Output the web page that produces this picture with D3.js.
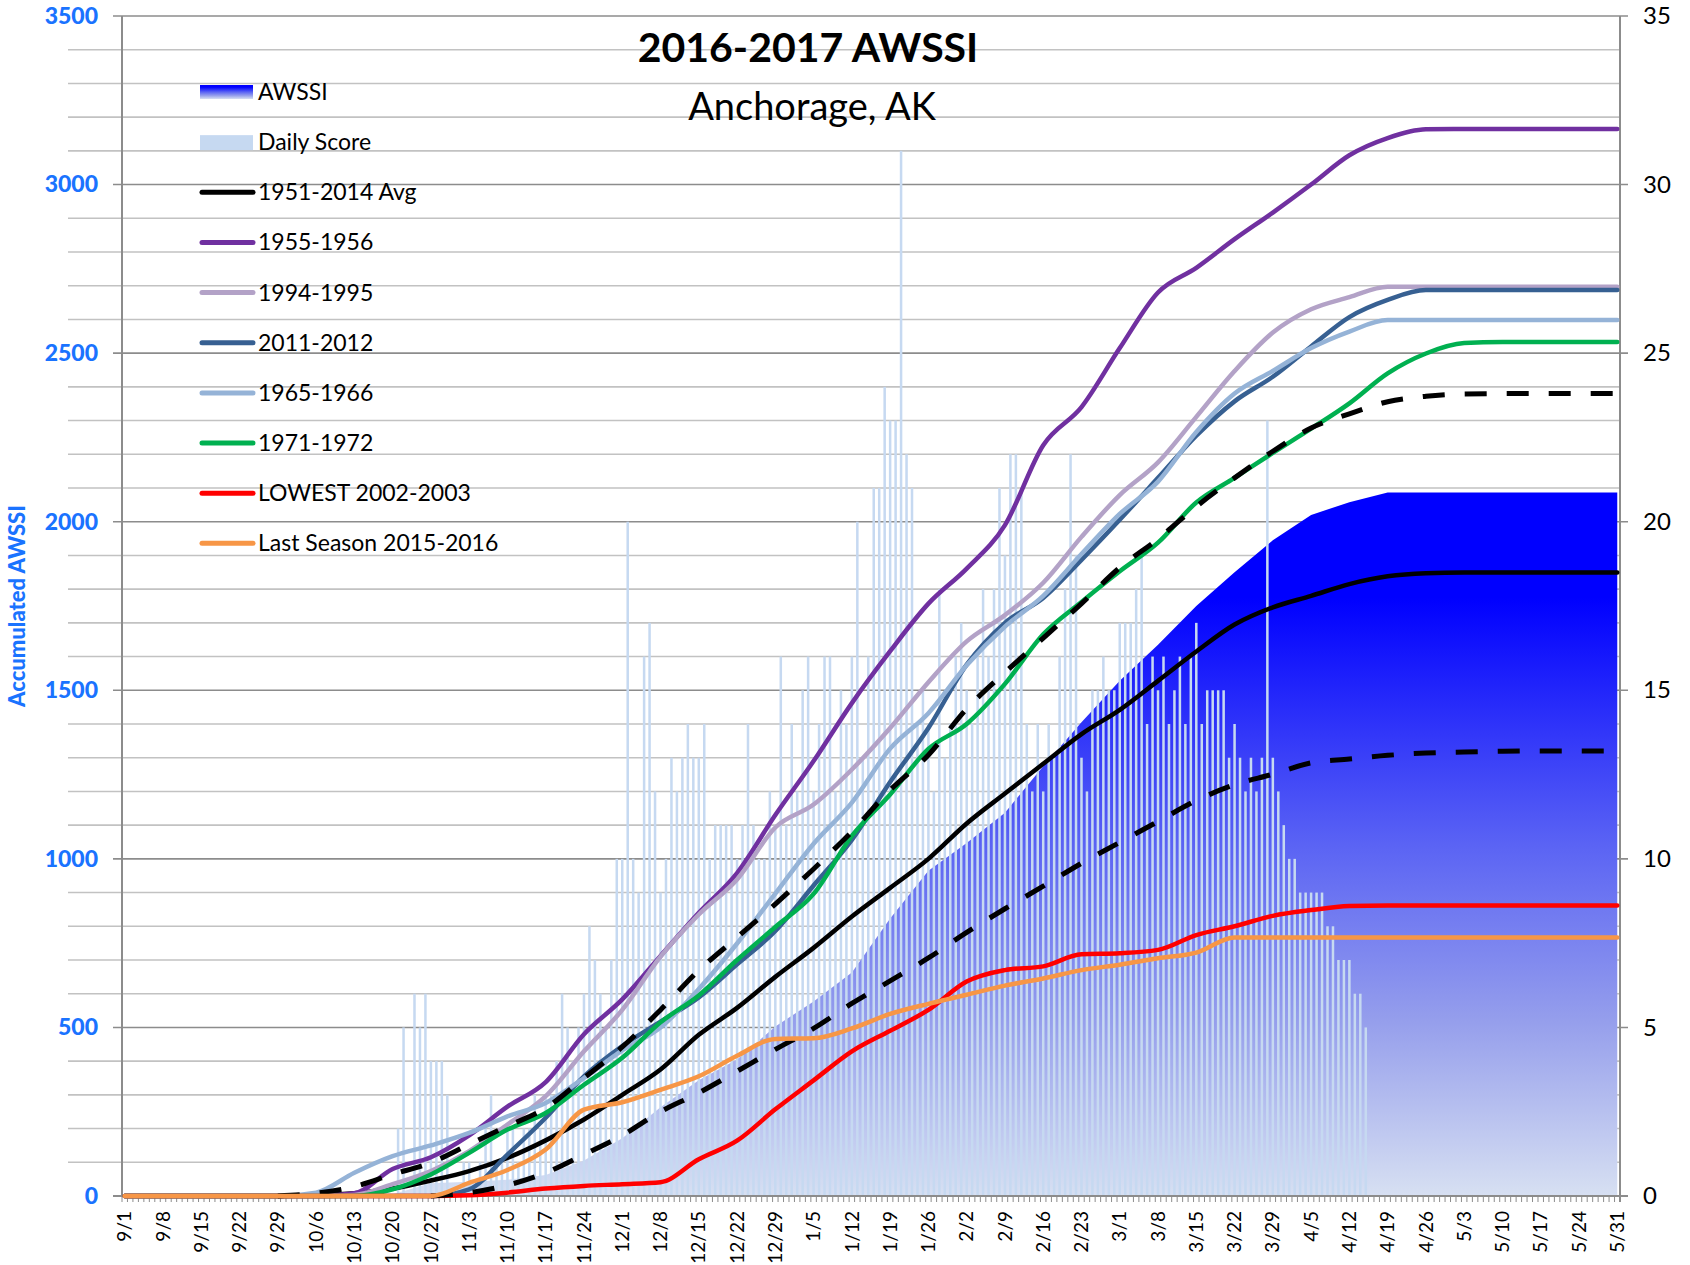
<!DOCTYPE html>
<html><head><meta charset="utf-8">
<script src="https://cdn.jsdelivr.net/npm/d3@7"></script>
<style>
html,body{margin:0;padding:0;background:#fff;}
svg{display:block;font-family:Lato,"Liberation Sans",sans-serif;}
</style></head><body>
<svg id="chart" width="1690" height="1265"></svg>
<script>
// ---------------- DATA ----------------
const weekLabels = ["9/1","9/8","9/15","9/22","9/29","10/6","10/13","10/20","10/27","11/3","11/10","11/17","11/24","12/1","12/8","12/15","12/22","12/29","1/5","1/12","1/19","1/26","2/2","2/9","2/16","2/23","3/1","3/8","3/15","3/22","3/29","4/5","4/12","4/19","4/26","5/3","5/10","5/17","5/24","5/31"];
const seasonMonths = [[9,30],[10,31],[11,30],[12,31],[1,31],[2,29],[3,31],[4,30],[5,31]];
const leftTicks = [0,500,1000,1500,2000,2500,3000,3500];
const rightTicks = [0,5,10,15,20,25,30,35];

// accumulated AWSSI 2016-2017 (weekly readings)
const awssi2017 = [0,0,0,0,0,0,0,5,38,42,48,62,105,171,263,343,405,503,577,663,823,965,1047,1137,1275,1405,1528,1635,1750,1850,1945,2020,2058,2087,2087,2087,2087,2087,2087,2087];
const avg1951_2014 = [0,0,0,0,0,2,8,22,46,74,113,165,227,300,375,478,558,650,736,829,914,1000,1105,1194,1282,1370,1442,1528,1615,1695,1746,1780,1815,1838,1847,1849,1849,1849,1849,1849];
const avgPlusSd = [null,null,null,null,0,8,28,64,99,153,207,261,350,442,552,669,767,866,970,1081,1204,1308,1445,1553,1655,1757,1864,1949,2045,2130,2209,2278,2320,2356,2372,2379,2380,2380,2380,2380];
const avgMinusSd = [null,null,null,null,null,null,null,null,0,10,32,69,123,180,250,306,370,435,497,571,638,706,782,852,919,987,1049,1111,1173,1220,1251,1285,1296,1307,1314,1317,1319,1320,1320,1320];
const s1955_1956 = [0,0,0,0,0,0,8,80,115,180,265,338,480,583,712,840,958,1130,1290,1462,1616,1757,1861,1990,2227,2340,2515,2680,2753,2838,2917,3000,3087,3138,3164,3165,3165,3165,3165,3165];
const s1994_1995 = [0,0,0,0,0,0,3,35,74,133,212,296,429,552,710,835,939,1093,1161,1265,1388,1524,1645,1723,1819,1955,2079,2176,2311,2447,2561,2630,2666,2697,2697,2697,2697,2697,2697,2697];
const s2011_2012 = [0,0,0,0,0,0,0,0,0,20,123,232,355,445,517,589,687,786,921,1056,1228,1388,1576,1700,1774,1887,2006,2130,2255,2357,2430,2520,2607,2658,2687,2687,2687,2687,2687,2687];
const s1965_1966 = [0,0,0,0,0,10,69,118,150,187,236,276,350,432,500,614,749,897,1045,1167,1327,1432,1574,1689,1780,1904,2023,2119,2266,2380,2447,2515,2564,2598,2598,2598,2598,2598,2598,2598];
const s1971_1972 = [0,0,0,0,0,0,0,20,64,128,197,246,330,410,515,595,700,798,896,1068,1191,1326,1400,1519,1666,1762,1853,1938,2057,2130,2204,2276,2351,2440,2499,2530,2533,2533,2533,2533];
const s2002_2003 = [0,0,0,0,0,0,0,0,0,2,10,22,30,35,41,109,164,257,343,429,490,552,636,670,681,717,720,730,774,800,831,848,860,862,862,862,862,862,862,862];
const s2015_2016 = [0,0,0,0,0,0,0,0,0,39,77,138,256,278,315,355,416,466,468,497,540,570,597,624,645,670,686,705,722,767,767,767,767,767,767,767,767,767,767,767];

// daily score 2016-2017 (one value per day, 9/1 .. 5/31)
const dailyScore = [
 0,0,0,0,0,0,0,0,0,0, 0,0,0,0,0,0,0,0,0,0, 0,0,0,0,0,0,0,0,0,0,
 0,0,0,0,0,0,0,0,0,0, 0,0,0,0,0,0,0,0,0,0,
 2,5,0,6,5,6,4,4,4,3,
 0,0,1,1,0,1,2,
 3,
 1,1,2,2,1,2,2,3,2,3,3,
 4,6,5,4,5,6,8,7,6,5,
 7,10,10,20,10,9,16,17,12,9,
 10,13,12,13,14,13,13,14,10,11,
 11,11,11,10,11,14,11,10,10,12,
 11,16,11,14,12,15,16,12,14,16,
 16,12,15,14,16,20,13,16,21,21,
 24,23,23,31,22,21,14,15,14,12,
 18,13,14,16,17,15,14,16,18,16,
 18,21,19,22,22,21,14,12,14,12,
 14,13,16,18,22,19,13,12,15,15,
 16,15,15,17,17,17,18,19,14,16,
 15,16,14,15,16,14,16,17,14,15,
 15,15,15,13,14,13,12,13,12,13,
 23,13,12,11,10,10,9,9,9,9,
 9,8,8,7,7,7,6,6,5,0,
 0,0,0,0,0,0,0,0,0,0, 0,0,0,0,0,0,0,0,0,0, 0,0,0,0,0,0,0,0,0,0,
 0,0,0,0,0,0,0,0,0,0, 0,0,0,0,0
];

const legendNames = ["AWSSI","Daily Score","1951-2014 Avg","1955-1956","1994-1995","2011-2012","1965-1966","1971-1972","LOWEST 2002-2003","Last Season 2015-2016"];

// ---------------- CHART ----------------
const days = [];
seasonMonths.forEach(([m,n])=>{ for(let d=1; d<=n; d++) days.push(m+"/"+d); });

const plot = {left:122, right:1620, top:16, bottom:1196};
const svg = d3.select("#chart");
const x = d3.scaleBand().domain(days).range([plot.left, plot.right]).padding(0);
const xc = d => x(d) + x.bandwidth()/2;
const y = d3.scaleLinear().domain([0,3500]).range([plot.bottom, plot.top]);
const y2 = d3.scaleLinear().domain([0,35]).range([plot.bottom, plot.top]);

const defs = svg.append("defs");
const grad = defs.append("linearGradient").attr("id","awssiGrad").attr("x1",0).attr("y1",0).attr("x2",0).attr("y2",1);
[[0,"#0000ff"],[0.15,"#0000ff"],[0.5,"#5a63f4"],[0.75,"#959eec"],[1,"#d7e0f2"]].forEach(([o,c])=>grad.append("stop").attr("offset",o).attr("stop-color",c));

// gridlines
const minor = d3.range(100,3500,100).filter(v=>v%500!==0);
svg.append("g").selectAll("line").data(minor).join("line")
  .attr("x1",68).attr("x2",plot.right).attr("y1",d=>y(d)).attr("y2",d=>y(d))
  .attr("stroke","#c2c2c2").attr("stroke-width",1.6);
svg.append("g").selectAll("line").data(leftTicks).join("line")
  .attr("x1",113).attr("x2",1628).attr("y1",d=>y(d)).attr("y2",d=>y(d))
  .attr("stroke","#8c8c8c").attr("stroke-width",1.6);

// AWSSI area
const weekData = arr => arr.map((v,i)=>({k:weekLabels[i], v}));
svg.append("path").datum(weekData(awssi2017))
  .attr("d", d3.area().x(d=>xc(d.k)).y0(y(0)).y1(d=>y(d.v)))
  .attr("fill","url(#awssiGrad)");

// daily bars
const bw = x.bandwidth()*0.46;
svg.append("g").selectAll("rect").data(dailyScore.map((v,i)=>({d:days[i],v}))).join("rect")
  .attr("x",d=>xc(d.d)-bw/2).attr("width",bw)
  .attr("y",d=>y2(d.v)).attr("height",d=>plot.bottom-y2(d.v))
  .attr("fill","#c6d9f1");

// axes lines
svg.append("line").attr("x1",plot.left).attr("x2",plot.left).attr("y1",plot.top).attr("y2",plot.bottom).attr("stroke","#8c8c8c").attr("stroke-width",2);
svg.append("line").attr("x1",plot.right).attr("x2",plot.right).attr("y1",plot.top).attr("y2",plot.bottom+6).attr("stroke","#8c8c8c").attr("stroke-width",2);
svg.append("line").attr("x1",113).attr("x2",1628).attr("y1",plot.bottom).attr("y2",plot.bottom).attr("stroke","#8c8c8c").attr("stroke-width",2);
// daily tick marks
svg.append("g").selectAll("line").data(days).join("line")
  .attr("x1",d=>x(d)).attr("x2",d=>x(d)).attr("y1",plot.bottom).attr("y2",plot.bottom+6)
  .attr("stroke","#8c8c8c").attr("stroke-width",1);

// lines
const line = d3.line().defined(d=>d.v!==null).x(d=>xc(d.k)).y(d=>y(d.v)).curve(d3.curveMonotoneX);
const seriesDraw = [
  [avg1951_2014,"#000000",null],
  [s1955_1956,"#7030a0",null],
  [s1994_1995,"#b3a2c7",null],
  [s2011_2012,"#376092",null],
  [s1965_1966,"#95b3d7",null],
  [s1971_1972,"#00b050",null],
  [s2002_2003,"#ff0000",null],
  [avgPlusSd,"#000000","22,20"],
  [avgMinusSd,"#000000","22,20"],
  [s2015_2016,"#f79646",null]
];
seriesDraw.forEach(([arr,col,dash])=>{
  svg.append("path").datum(weekData(arr)).attr("d",line)
    .attr("fill","none").attr("stroke",col).attr("stroke-width",dash?5:4.5)
    .attr("stroke-linejoin","round").attr("stroke-linecap",dash?"butt":"round")
    .attr("stroke-dasharray",dash);
});

// axis labels
const blue = "#1a73ff";
const gL = svg.append("g").attr("transform","translate(98,0)")
  .call(d3.axisLeft(y).tickValues(leftTicks).tickFormat(d3.format("d")).tickSize(0).tickPadding(0));
gL.select(".domain").remove();
gL.selectAll("text").style("font-family","Lato").style("font-weight","900").style("font-size","23px").attr("fill",blue);

const gR = svg.append("g").attr("transform","translate(1643,0)")
  .call(d3.axisRight(y2).tickValues(rightTicks).tickSize(0).tickPadding(0));
gR.select(".domain").remove();
gR.selectAll("text").style("font-family","Lato").style("font-size","24px").attr("fill","#000");

const gX = svg.append("g").attr("transform",`translate(0,${plot.bottom})`)
  .call(d3.axisBottom(x).tickValues(weekLabels).tickSize(0).tickPadding(0));
gX.select(".domain").remove();
gX.selectAll("text").style("font-family","Lato").style("font-size","19px").attr("fill","#000")
  .attr("transform","rotate(-90)").attr("text-anchor","end").attr("x",-15).attr("y",0).attr("dy","0.35em");

svg.append("text").attr("transform","translate(25,606) rotate(-90)").attr("text-anchor","middle")
  .style("font-weight","900").style("font-size","22px").attr("fill",blue).text("Accumulated AWSSI");

// titles
svg.append("text").attr("x",808).attr("y",62).attr("text-anchor","middle").style("font-weight","bold").style("font-size","41px").attr("fill","#000").text("2016-2017 AWSSI");
svg.append("text").attr("x",812).attr("y",120).attr("text-anchor","middle").style("font-size","38px").attr("fill","#000").text("Anchorage, AK");

// legend
const legendStyle = [
  {type:"grad"},{type:"rect",c:"#c6d9f1"},{type:"line",c:"#000000"},{type:"line",c:"#7030a0"},{type:"line",c:"#b3a2c7"},
  {type:"line",c:"#376092"},{type:"line",c:"#95b3d7"},{type:"line",c:"#00b050"},{type:"line",c:"#ff0000"},{type:"line",c:"#f79646"}
];
const lg = svg.append("g");
legendNames.forEach((name,i)=>{
  const cy = 92 + 50.15*i;
  const st = legendStyle[i];
  if(st.type==="grad") lg.append("rect").attr("x",200).attr("y",cy-7).attr("width",53).attr("height",14).attr("fill","url(#awssiGrad)");
  else if(st.type==="rect") lg.append("rect").attr("x",200).attr("y",cy-7).attr("width",53).attr("height",15).attr("fill",st.c);
  else lg.append("line").attr("x1",202).attr("x2",253).attr("y1",cy).attr("y2",cy).attr("stroke",st.c).attr("stroke-width",5).attr("stroke-linecap","round");
  lg.append("text").attr("x",258).attr("y",cy+8).style("font-size","23px").attr("fill","#000").text(name);
});
</script>
</body></html>
